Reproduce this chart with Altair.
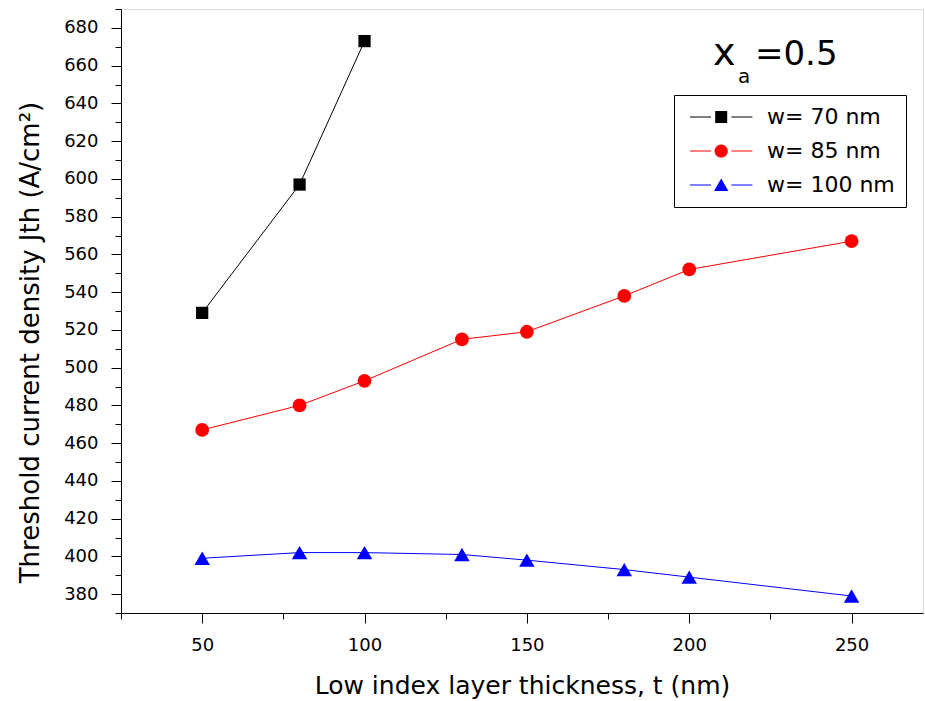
import altair as alt
import pandas as pd

# Series definitions
series_names = ["w= 70 nm", "w= 85 nm", "w= 100 nm"]
series_colors = ["#000000", "#ff0000", "#0000ff"]
series_shapes = ["square", "circle", "triangle-up"]
series_marker_sizes = [150, 190, 240]

# Low index layer thickness t (nm) and threshold current density Jth (A/cm^2)
t_70 = [50, 80, 100]
jth_70 = [529, 597, 673]

t_85 = [50, 80, 100, 130, 150, 180, 200, 250]
jth_85 = [467, 480, 493, 515, 519, 538, 552, 567]

t_100 = [50, 80, 100, 130, 150, 180, 200, 250]
jth_100 = [399, 402, 402, 401, 398, 393, 389, 379]

# Tick positions (major + minor)
x_ticks = list(range(25, 275, 25))
y_ticks = list(range(370, 700, 10))

rows = []
for name, ts, js in zip(series_names, [t_70, t_85, t_100], [jth_70, jth_85, jth_100]):
    for t, j in zip(ts, js):
        rows.append({"series": name, "t": t, "jth": j})
df = pd.DataFrame(rows)

FONT = "DejaVu Sans"

# Legend glyphs (symbol units): thin bar, marker, thin bar
_bars = "M-1,-0.09H2.5V0.09H-1Z M5.9,-0.09H9.4V0.09H5.9Z "
legend_paths = [
    _bars + "M3.2,-1H5.2V1H3.2Z",
    _bars + "M5.3,0A1.1,1.1,0,1,1,3.1,0A1.1,1.1,0,1,1,5.3,0Z",
    _bars + "M4.2,-1.1L5.4,1H3.0Z",
]

x_axis = alt.Axis(
    values=x_ticks,
    tickSize={"condition": {"test": "datum.value % 50 === 0", "value": 10}, "value": 6},
    labelExpr="datum.value % 50 === 0 ? datum.label : ''",
    labelFontSize=18,
    labelFont=FONT,
    labelPadding=13,
    labelOverlap=False,
    labelFlush=False,
    titleFontSize=25,
    titleFont=FONT,
    titleFontWeight="normal",
    titleY=80,
    titleBaseline="alphabetic",
    grid=False,
    domainColor="black",
    tickColor="black",
    labelColor="black",
    titleColor="black",
)

y_axis = alt.Axis(
    values=y_ticks,
    tickSize={"condition": {"test": "datum.value % 20 === 0", "value": 10}, "value": 6},
    labelExpr="datum.value % 20 === 0 ? datum.label : ''",
    labelFontSize=18,
    labelFont=FONT,
    labelPadding=13,
    labelOverlap=False,
    labelFlush=False,
    titleFontSize=26,
    titleFont=FONT,
    titleFontWeight="normal",
    titleX=-83,
    titleY=333,
    titleAngle=270,
    titleAlign="center",
    titleBaseline="alphabetic",
    grid=False,
    domainColor="black",
    tickColor="black",
    labelColor="black",
    titleColor="black",
)

x_enc = alt.X(
    "t:Q",
    scale=alt.Scale(domain=[25, 272], nice=False, zero=False),
    axis=x_axis,
    title="Low index layer thickness, t (nm)",
)
y_enc = alt.Y(
    "jth:Q",
    scale=alt.Scale(domain=[370, 690], nice=False, zero=False),
    axis=y_axis,
    title="Threshold current density Jth (A/cm²)",
)

base = alt.Chart(df)

# Connecting lines, one per series
line_layers = [
    base.transform_filter(alt.datum.series == name)
    .mark_line(strokeWidth=1, color=col)
    .encode(x=x_enc, y=y_enc)
    for name, col in zip(series_names, series_colors)
]

# One marker layer per series, each with its own fixed glyph
marker_layers = [
    base.transform_filter(alt.datum.series == name)
    .mark_point(filled=True, opacity=1, shape=shape, size=size, color=col)
    .encode(x=x_enc, y=y_enc)
    for name, shape, size, col in zip(series_names, series_shapes, series_marker_sizes, series_colors)
]

legend_def = alt.Legend(
    title=None,
    orient="none",
    legendX=553,
    legendY=86,
    strokeColor="black",
    fillColor="white",
    padding=11,
    symbolSize=144,
    symbolStrokeWidth=0,
    labelFontSize=22,
    labelFont=FONT,
    labelColor="black",
    labelOffset=60,
    rowPadding=12,
)

# Key-only layer (no rows drawn): carries the legend with line+marker glyphs
legend_layer = base.transform_filter(alt.datum.t < 0).mark_point(
    filled=True, size=144, opacity=1
).encode(
    x=x_enc,
    y=y_enc,
    shape=alt.Shape("series:N", scale=alt.Scale(domain=series_names, range=legend_paths), legend=legend_def),
    color=alt.Color("series:N", scale=alt.Scale(domain=series_names, range=series_colors), legend=legend_def),
)

one_row = alt.Data(values=[{}])
label_x = alt.Chart(one_row).mark_text(
    text="x", font=FONT, fontSize=38, align="left", baseline="alphabetic", color="black"
).encode(x=alt.value(592), y=alt.value(56))
label_a = alt.Chart(one_row).mark_text(
    text="a", font=FONT, fontSize=20, align="left", baseline="alphabetic", color="black"
).encode(x=alt.value(617), y=alt.value(74))
label_val = alt.Chart(one_row).mark_text(
    text="=0.5", font=FONT, fontSize=34, align="left", baseline="alphabetic", color="black"
).encode(x=alt.value(634), y=alt.value(56))

chart = (
    alt.layer(*line_layers, *marker_layers, legend_layer, label_x, label_a, label_val)
    .properties(
        width=802,
        height=604,
        autosize=alt.AutoSizeParams(type="none"),
        padding={"left": 121, "top": 9, "right": 2, "bottom": 88},
        background="white",
    )
    .configure_view(strokeWidth=0)
    .configure(font=FONT)
)

chart.save("out.html", embed_options={"renderer": "svg", "actions": False})
